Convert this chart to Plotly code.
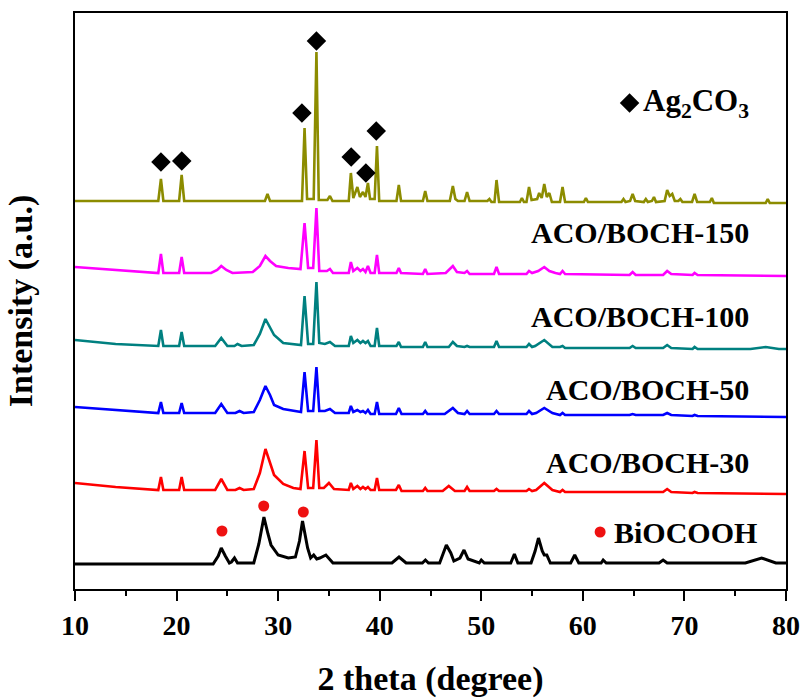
import plotly.graph_objects as go

# ---------------- data (2theta in degrees, intensity in arbitrary offset units) ----------------
ag_x = [10, 18.2, 18.46, 18.7, 20.25, 20.5, 20.75, 28.7, 28.95, 29.2, 32.35, 32.6, 32.85, 33.5, 33.77, 34.0,
        34.85, 35.1, 35.35, 36.95, 37.16, 37.4, 37.8, 38.05, 38.35, 38.6, 38.84, 39.05, 39.5, 39.73, 39.95,
        41.65, 41.88, 42.1, 44.25, 44.48, 44.7, 46.9, 47.2, 47.45, 47.7, 48.35, 48.6, 48.85, 50.6, 50.8, 51.0,
        51.3, 51.5, 51.75, 53.8, 54.0, 54.2, 54.45, 54.7, 54.95, 55.5, 55.7, 55.95, 56.2, 56.45, 56.7, 56.95,
        57.75, 58.0, 58.25, 60.1, 60.3, 60.5, 63.8, 64.0, 64.2, 64.65, 64.9, 65.15, 66.0, 66.2, 66.4, 66.8,
        67.0, 67.2, 68.05, 68.3, 68.55, 68.8, 69.05, 69.4, 69.6, 69.8, 70.75, 71.0, 71.25, 72.5, 72.7, 72.9,
        78.0, 78.2, 78.4, 80]
ag_y = [388, 388, 410, 388, 388, 414, 388, 388, 395, 388, 388, 461, 390, 390, 537, 389,
        389, 393, 388, 388, 416, 391, 402, 392, 397, 392, 406, 390, 390, 443, 388,
        388, 404, 388, 388, 398, 388, 388, 403, 390, 388, 388, 397, 388, 388, 390, 387,
        387, 409, 387, 387, 391, 387, 387, 402, 389, 390, 396, 391, 405, 392, 396, 387,
        387, 402, 387, 387, 391, 387, 387, 390, 387, 388, 395, 388, 387, 390, 387, 388,
        392, 387, 388, 399, 393, 395, 388, 388, 390, 387, 387, 395, 387, 387, 391, 386,
        386, 390, 386, 386]

b150_x = [10, 14, 18.2, 18.46, 18.7, 20.25, 20.5, 20.75, 23.4, 24.0, 24.4, 24.9, 25.5, 27.5, 28.2, 28.75,
          29.2, 29.8, 31.0, 32.2, 32.6, 32.95, 33.45, 33.77, 34.05, 34.8, 35.1, 35.4, 36.95, 37.16, 37.4,
          37.8, 38.1, 38.35, 38.6, 38.84, 39.1, 39.5, 39.73, 39.95, 41.65, 41.88, 42.1, 44.25, 44.48, 44.7,
          46.5, 47.2, 47.6, 48.35, 48.6, 48.85, 51.25, 51.5, 51.75, 54.45, 54.7, 55.0, 55.6, 56.2, 56.7,
          57.3, 57.75, 58.0, 58.25, 64.6, 64.9, 65.2, 67.9, 68.3, 68.7, 70.8, 71.0, 71.3, 80]
b150_y = [322, 319, 316, 335, 316, 316, 332, 316, 316, 319, 323, 319, 316, 317, 323, 333,
          328, 323, 321, 320, 366, 321, 321, 381, 318, 318, 320, 316, 316, 327, 318,
          321, 318, 320, 317, 323, 316, 316, 334, 316, 316, 321, 316, 315, 320, 315,
          316, 323, 317, 316, 318, 315, 315, 322, 315, 315, 318, 316, 318, 322, 318,
          316, 315, 318, 315, 314, 317, 314, 314, 318, 315, 314, 316, 314, 313]

b100_x = [10, 14, 18.2, 18.46, 18.7, 20.25, 20.5, 20.75, 23.8, 24.4, 25.0, 25.7, 26.0, 26.4, 27.6, 28.2,
          28.75, 29.2, 29.6, 30.5, 32.25, 32.6, 32.95, 33.45, 33.77, 34.05, 34.6, 35.1, 35.6, 36.95, 37.16,
          37.4, 37.8, 38.1, 38.35, 38.6, 38.84, 39.1, 39.5, 39.73, 39.95, 41.65, 41.88, 42.1, 44.25, 44.48,
          44.7, 46.8, 47.2, 47.6, 48.35, 48.6, 48.85, 51.25, 51.5, 51.75, 54.45, 54.7, 55.0, 55.3, 56.2,
          57.0, 57.75, 58.0, 58.25, 64.6, 64.9, 65.2, 67.9, 68.3, 68.7, 70.8, 71.0, 71.3, 76.5, 78.0,
          79.3, 80]
b100_y = [249, 245, 243, 259, 243, 243, 257, 243, 243, 251, 243, 243, 245, 243, 244, 255,
          270, 262, 254, 246, 244, 293, 245, 245, 307, 246, 245, 247, 243, 243, 253,
          246, 249, 246, 248, 246, 248, 243, 243, 261, 243, 243, 247, 242, 242, 247,
          242, 242, 247, 243, 242, 243, 242, 242, 248, 242, 242, 245, 242, 243, 249,
          242, 242, 243, 241, 241, 243, 241, 241, 244, 241, 240, 242, 240, 240, 242,
          240, 240]

b50_x = [10, 14, 18.2, 18.46, 18.7, 20.25, 20.5, 20.75, 23.8, 24.4, 25.0, 25.8, 26.2, 26.6, 27.6, 28.2,
         28.75, 29.2, 29.6, 30.5, 31.5, 32.25, 32.6, 32.95, 33.45, 33.77, 34.05, 34.6, 35.1, 35.6, 36.95,
         37.16, 37.4, 37.8, 38.1, 38.35, 38.6, 38.84, 39.1, 39.5, 39.73, 39.95, 41.6, 41.88, 42.15, 44.25,
         44.48, 44.7, 46.4, 47.2, 47.7, 48.35, 48.6, 48.85, 51.25, 51.5, 51.75, 54.45, 54.7, 55.0, 55.4,
         56.2, 57.0, 57.75, 58.0, 58.25, 64.6, 64.9, 65.2, 67.9, 68.3, 68.7, 70.8, 71.0, 71.3, 80]
b50_y = [182, 179, 176, 187, 176, 176, 186, 176, 176, 185, 176, 176, 178, 176, 177, 189,
         203, 194, 184, 180, 178, 177, 217, 178, 178, 222, 178, 178, 180, 176, 176,
         183, 177, 179, 177, 178, 176, 179, 175, 175, 187, 175, 175, 181, 175, 175,
         178, 175, 175, 181, 176, 175, 178, 175, 175, 178, 175, 175, 178, 175, 176,
         181, 176, 174, 176, 174, 174, 175, 174, 174, 176, 174, 173, 174, 173, 172]

b30_x = [10, 14, 18.2, 18.46, 18.7, 20.25, 20.5, 20.75, 23.8, 24.4, 25.0, 25.8, 26.2, 26.6, 27.6, 28.2,
         28.75, 29.2, 29.6, 30.5, 31.5, 32.2, 32.6, 32.95, 33.45, 33.77, 34.05, 34.5, 35.0, 35.5, 36.95,
         37.16, 37.4, 37.8, 38.1, 38.35, 38.6, 38.84, 39.1, 39.5, 39.73, 39.95, 41.6, 41.88, 42.15, 44.25,
         44.48, 44.7, 46.2, 46.8, 47.4, 48.35, 48.6, 48.85, 51.25, 51.5, 51.75, 54.45, 54.7, 55.0, 55.4,
         56.2, 57.0, 57.75, 58.0, 58.25, 64.6, 64.9, 65.2, 67.9, 68.3, 68.7, 70.8, 71.0, 71.3, 80]
b30_y = [106, 102, 99, 112, 99, 99, 112, 99, 99, 110, 99, 99, 101, 99, 100, 116,
         140, 126, 114, 105, 101, 100, 138, 101, 101, 149, 101, 101, 106, 100, 99,
         106, 100, 103, 100, 102, 100, 102, 99, 99, 111, 99, 99, 104, 98, 98,
         101, 98, 98, 103, 98, 98, 102, 98, 98, 100, 98, 98, 100, 98, 99,
         106, 99, 97, 99, 97, 97, 97, 97, 97, 100, 97, 96, 97, 96, 95]

boch_x = [10, 23.6, 24.1, 24.4, 24.8, 25.2, 25.4, 25.7, 26.0, 27.6, 28.1, 28.6, 29.0, 29.3, 30.0, 31.0,
          31.7, 32.1, 32.4, 32.7, 32.9, 33.2, 33.5, 33.8, 34.1, 34.7, 35.4, 41.2, 41.9, 42.6, 44.2, 44.5,
          44.8, 45.9, 46.3, 46.56, 47.0, 47.3, 47.9, 48.3, 48.7, 49.8, 50.0, 50.3, 52.9, 53.26, 53.6, 54.9,
          55.3, 55.63, 56.0, 56.2, 56.45, 56.8, 58.8, 59.2, 59.6, 61.8, 62.0, 62.3, 67.5, 67.9, 68.3, 76.0,
          77.6, 79.0, 80]
boch_y = [25, 25, 33, 41, 33, 26, 27, 31, 26, 26, 45, 72, 55, 44, 34, 31,
          32, 48, 68, 52, 41, 31, 34, 30, 31, 34, 26, 26, 32, 26, 26, 29,
          26, 26, 36, 44, 36, 28, 31, 39, 30, 26, 29, 26, 26, 35, 26, 26,
          38, 51, 38, 34, 34, 26, 26, 34, 26, 26, 29, 26, 26, 29, 26, 26,
          31, 26, 26]

series_names = ["Ag<sub>2</sub>CO<sub>3</sub>", "ACO/BOCH-150", "ACO/BOCH-100", "ACO/BOCH-50", "ACO/BOCH-30", "BiOCOOH"]
series_x = [ag_x, b150_x, b100_x, b50_x, b30_x, boch_x]
series_y = [ag_y, b150_y, b100_y, b50_y, b30_y, boch_y]
series_colors = ["#8c8c00", "#ff00ff", "#008080", "#0000ff", "#ff0000", "#000000"]
series_widths = [2.6, 2.6, 2.6, 2.6, 2.6, 3.0]

# phase markers
ag_mark_x = [18.46, 20.51, 32.34, 33.77, 37.19, 38.64, 39.66]
ag_mark_y = [427, 428, 476, 548, 432, 416, 458]
boch_mark_x = [24.47, 28.58, 32.48]
boch_mark_y = [58, 83, 77]

# sample labels (right-aligned)
label_text = ["ACO/BOCH-150", "ACO/BOCH-100", "ACO/BOCH-50", "ACO/BOCH-30"]
label_y = [357, 273, 200, 127]
label_x_right = 76.6

# legend-like phase keys
key_ag = dict(mx=64.6, my=486, tx=65.7, text="Ag<sub>2</sub>CO<sub>3</sub>")
key_boch = dict(mx=61.7, my=57, tx=62.9, text="BiOCOOH")

x_ticks = [10, 20, 30, 40, 50, 60, 70, 80]

# ---------------- figure ----------------
FONT = "Liberation Serif, Times New Roman, serif"
fig = go.Figure()
for xs, ys, name, col, w in zip(series_x, series_y, series_names, series_colors, series_widths):
    fig.add_trace(go.Scatter(x=xs, y=ys, mode="lines", name=name,
                             line=dict(color=col, width=w, shape="linear"), showlegend=False))

fig.add_trace(go.Scatter(x=ag_mark_x, y=ag_mark_y, mode="markers",
                         marker=dict(symbol="diamond", size=15, color="black"), showlegend=False))
fig.add_trace(go.Scatter(x=boch_mark_x, y=boch_mark_y, mode="markers",
                         marker=dict(symbol="circle", size=11, color="#ee1111"), showlegend=False))
fig.add_trace(go.Scatter(x=[key_ag["mx"]], y=[key_ag["my"]], mode="markers",
                         marker=dict(symbol="diamond", size=15, color="black"), showlegend=False))
fig.add_trace(go.Scatter(x=[key_boch["mx"]], y=[key_boch["my"]], mode="markers",
                         marker=dict(symbol="circle", size=11, color="#ee1111"), showlegend=False))

for t, yv in zip(label_text, label_y):
    fig.add_annotation(x=label_x_right, y=yv, text=t, showarrow=False, xanchor="right", yanchor="middle",
                       font=dict(family=FONT, size=30, color="black", weight="bold"))
fig.add_annotation(x=key_ag["tx"], y=key_ag["my"], text=key_ag["text"], showarrow=False,
                   xanchor="left", yanchor="middle",
                   font=dict(family=FONT, size=31, color="black", weight="bold"))
fig.add_annotation(x=key_boch["tx"], y=key_boch["my"], text=key_boch["text"], showarrow=False,
                   xanchor="left", yanchor="middle",
                   font=dict(family=FONT, size=30, color="black", weight="bold"))

fig.update_layout(
    width=802, height=698,
    margin=dict(l=75, r=16, t=13, b=109, autoexpand=False),
    paper_bgcolor="white", plot_bgcolor="white",
    font=dict(family=FONT, color="black"),
)
fig.update_xaxes(
    range=[10, 80], tickvals=x_ticks, ticktext=[str(v) for v in x_ticks],
    ticks="outside", ticklen=10, tickwidth=2, tickcolor="black",
    minor=dict(dtick=5, tick0=10, ticks="outside", ticklen=5, tickwidth=2, tickcolor="black"),
    showline=True, linewidth=2, linecolor="black", mirror=True,
    showgrid=False, zeroline=False, automargin=False,
    tickfont=dict(family=FONT, size=28, color="black", weight="bold"),
    title=dict(text="2 theta (degree)", standoff=28,
               font=dict(family=FONT, size=34, color="black", weight="bold")),
)
fig.update_yaxes(
    range=[0, 576], showticklabels=False, ticks="",
    showline=True, linewidth=2, linecolor="black", mirror=True,
    showgrid=False, zeroline=False, automargin=False,
    title=dict(text="Intensity (a.u.)", standoff=30,
               font=dict(family=FONT, size=34, color="black", weight="bold")),
)

fig.write_html("out.html")
